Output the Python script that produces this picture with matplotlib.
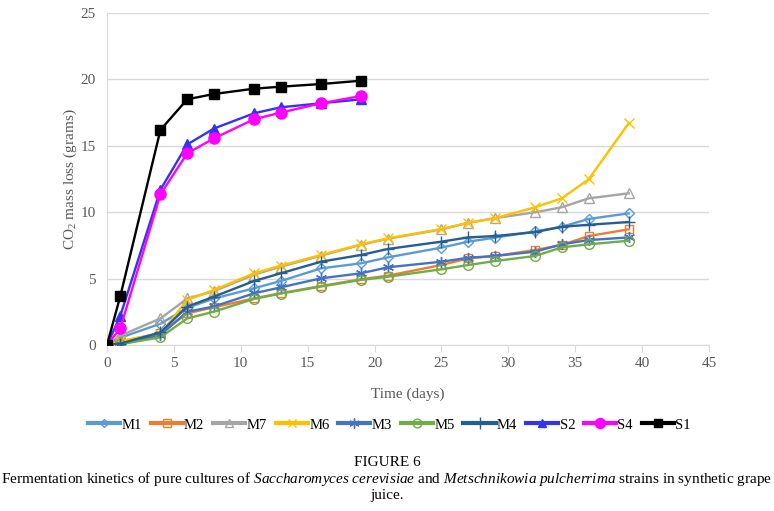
import matplotlib
matplotlib.use("Agg")
import matplotlib.pyplot as plt
from matplotlib.lines import Line2D

plt.rcParams['font.family'] = ['Liberation Serif', 'DejaVu Serif']
plt.rcParams['mathtext.fontset'] = 'custom'
plt.rcParams['mathtext.rm'] = 'Liberation Serif'
plt.rcParams['mathtext.it'] = 'Liberation Serif:italic'

days_m = [0, 1, 4, 6, 8, 11, 13, 16, 19, 21, 25, 27, 29, 32, 34, 36, 39]
days_s = [0, 1, 4, 6, 8, 11, 13, 16, 19]

M1 = [0, 0.55, 1.6, 2.8, 3.5, 4.27, 4.82, 5.77, 6.15, 6.6, 7.33, 7.78, 8.08, 8.55, 8.9, 9.49, 9.91]
M2 = [0, 0.25, 0.9, 2.38, 2.84, 3.51, 3.9, 4.44, 4.95, 5.22, 6.02, 6.52, 6.7, 7.15, 7.53, 8.2, 8.71]
M7 = [0, 0.7, 2.0, 3.5, 4.05, 5.3, 5.9, 6.72, 7.55, 8.0, 8.7, 9.2, 9.55, 9.99, 10.37, 11.04, 11.42]
M6 = [0, 0.3, 0.85, 3.39, 4.14, 5.4, 5.97, 6.78, 7.58, 8.03, 8.73, 9.2, 9.54, 10.37, 11.04, 12.47, 16.7]
M3 = [0, 0.05, 0.75, 2.5, 2.9, 3.89, 4.34, 5.02, 5.4, 5.85, 6.27, 6.57, 6.7, 7.03, 7.58, 7.9, 8.1]
M5 = [0, 0.05, 0.58, 2.0, 2.51, 3.47, 3.87, 4.4, 4.9, 5.14, 5.7, 6.02, 6.32, 6.7, 7.35, 7.58, 7.85]
M4 = [0, 0.1, 0.95, 2.89, 3.64, 4.82, 5.4, 6.27, 6.78, 7.23, 7.78, 8.1, 8.2, 8.5, 8.9, 9.05, 9.26]
S2 = [0, 2.2, 11.7, 15.1, 16.3, 17.45, 17.9, 18.2, 18.5]
S4 = [0, 1.26, 11.35, 14.43, 15.56, 17.0, 17.5, 18.2, 18.75]
S1 = [0, 3.69, 16.2, 18.5, 18.9, 19.3, 19.45, 19.65, 19.9]

fig = plt.figure(figsize=(7.74, 5.11), dpi=100)
ax = fig.add_axes([0.1382, 0.3249, 0.7778, 0.6497])

star = (6, 2, 0)
series = [
    ('M1', days_m, M1, '#5B9BD5', 'D', 'none', 5, 1),
    ('M2', days_m, M2, '#ED7D31', 's', 'none', 6, 1),
    ('M7', days_m, M7, '#A5A5A5', '^', 'none', 7, 1),
    ('M6', days_m, M6, '#FFC000', 'x', 'none', 7, 1),
    ('M3', days_m, M3, '#4472C4', star, 'none', 8, 1),
    ('M5', days_m, M5, '#70AD47', 'o', 'none', 7, 1),
    ('M4', days_m, M4, '#255E91', '+', 'none', 9, 1),
    ('S2', days_s, S2, '#3333F0', '^', '#3333F0', 7, 1),
    ('S4', days_s, S4, '#FF00FF', 'o', '#FF00FF', 8, 1),
    ('S1', days_s, S1, '#000000', 's', '#000000', 7, 1),
]
handles = []
for name, x, y, c, m, fc, ms, mew in series:
    ax.plot(x, y, color=c, lw=1.7, marker=m, markersize=ms,
            markerfacecolor=fc, markeredgecolor=c, markeredgewidth=mew, zorder=3)
    handles.append(Line2D([0], [0], color=c, lw=3, marker=m, markersize=ms * 0.9,
                          markerfacecolor=fc, markeredgecolor=c, markeredgewidth=mew,
                          label=name))

ax.set_xlim(0, 45)
ax.set_ylim(0, 25)
ax.set_xticks(range(0, 46, 5))
ax.set_yticks(range(0, 26, 5))
ax.grid(axis='y', color='#D9D9D9', lw=1)
ax.set_axisbelow(True)
for s in ['top', 'right']:
    ax.spines[s].set_visible(False)
for s in ['left', 'bottom']:
    ax.spines[s].set_color('#D9D9D9')
ax.tick_params(axis='x', colors='#D9D9D9', labelcolor='#595959', labelsize=11,
               length=5, direction='out', pad=4)
ax.tick_params(axis='y', length=0, labelcolor='#595959', labelsize=11, pad=8)

ax.set_xlabel('Time (days)', fontsize=11, color='#595959', labelpad=12)
ax.set_ylabel('CO$_2$ mass loss (grams)', fontsize=11, color='#595959', labelpad=1)

fig.legend(handles=handles, loc='center', bbox_to_anchor=(0.503, 1 - 425/511),
           ncol=10, frameon=False, fontsize=10.5, handlelength=2.2,
           handletextpad=0.1, columnspacing=0.6)

fig.text(0.5, 1 - 462/511, 'FIGURE 6', ha='center', va='center', fontsize=11)
fig.text(0.5, 1 - 479/511,
         r'Fermentation kinetics of pure cultures of $\mathit{Saccharomyces\ cerevisiae}$ and '
         r'$\mathit{Metschnikowia\ pulcherrima}$ strains in synthetic grape',
         ha='center', va='center', fontsize=11)
fig.text(0.5, 1 - 496/511, 'juice.', ha='center', va='center', fontsize=11)

fig.savefig('out.png', dpi=100)
